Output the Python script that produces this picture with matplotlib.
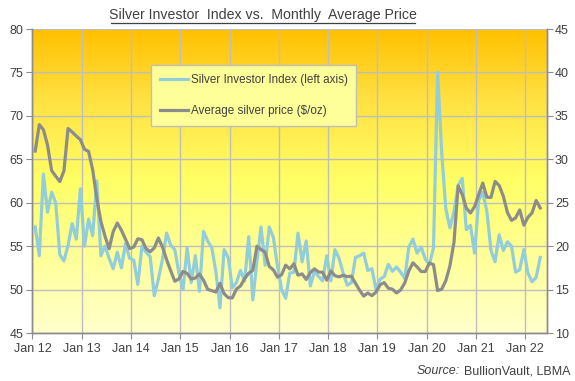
import numpy as np
import matplotlib
matplotlib.use('Agg')
import matplotlib.pyplot as plt
import matplotlib.colors as mcolors
from matplotlib.lines import Line2D

# monthly values, Jan 2012 .. Apr 2022
silver_index = [
    57.2, 53.9, 63.3, 58.9, 61.2, 60.0, 54.0, 53.3, 55.1, 57.6, 55.8, 61.6,
    55.0, 58.1, 56.2, 62.5, 53.9, 55.0, 53.6, 52.4, 54.3, 52.5, 55.3, 53.6,
    53.4, 50.6, 55.0, 54.3, 53.8, 49.3, 51.2, 53.5, 56.5, 55.1, 54.6, 51.9,
    50.0, 54.8, 50.8, 53.9, 49.8, 56.7, 55.6, 54.8, 52.1, 47.9, 54.6, 53.7,
    50.2, 50.8, 52.2, 51.0, 56.1, 48.8, 53.3, 57.2, 52.8, 57.2, 56.0, 52.7,
    50.0, 49.0, 51.9, 52.0, 56.5, 53.2, 55.6, 50.4, 52.1, 51.5, 51.0, 53.9,
    51.0, 54.6, 53.6, 51.9, 50.5, 50.8, 53.7, 53.9, 54.2, 52.2, 52.4, 50.0,
    51.2, 51.5, 52.9, 52.1, 52.6, 52.0, 51.3, 54.9, 55.8, 54.2, 54.9, 53.5,
    52.9, 54.8, 75.0, 65.8, 59.3, 57.1, 59.0, 62.0, 62.8, 56.9, 57.4, 54.2,
    60.3, 61.2, 59.0, 54.5, 53.2, 56.3, 54.5, 55.5, 55.0, 52.0, 52.3, 54.6,
    51.9, 50.9, 51.4, 53.7,
]
silver_price = [
    30.95, 33.99, 33.40, 31.64, 28.70, 28.05, 27.44, 28.67, 33.55, 33.14, 32.68, 32.26,
    31.15, 30.91, 28.78, 25.46, 22.85, 21.14, 19.71, 21.68, 22.66, 21.83, 20.79, 19.72,
    19.90, 20.85, 20.74, 19.71, 19.35, 19.80, 20.94, 19.90, 18.45, 17.17, 15.96, 16.23,
    17.09, 16.86, 16.22, 16.33, 16.79, 16.07, 15.03, 14.88, 14.72, 15.72, 14.52, 14.07,
    14.04, 15.06, 15.42, 16.26, 16.89, 17.22, 19.99, 19.61, 19.29, 17.66, 17.27, 16.43,
    16.71, 17.81, 17.38, 17.97, 16.66, 16.81, 16.17, 16.96, 17.39, 17.02, 16.99, 16.08,
    17.14, 16.59, 16.46, 16.65, 16.49, 16.54, 15.72, 14.93, 14.25, 14.60, 14.30, 14.70,
    15.56, 15.80, 15.16, 15.04, 14.61, 14.96, 15.77, 17.16, 18.08, 17.61, 17.08, 17.07,
    18.05, 17.87, 14.89, 15.05, 16.02, 17.73, 20.48, 26.93, 25.95, 24.38, 23.82, 24.54,
    25.92, 27.26, 25.63, 25.61, 27.45, 26.98, 25.76, 23.89, 22.97, 23.25, 24.17, 22.42,
    23.32, 23.83, 25.25, 24.40,
]
year_labels = ['Jan 12', 'Jan 13', 'Jan 14', 'Jan 15', 'Jan 16', 'Jan 17',
               'Jan 18', 'Jan 19', 'Jan 20', 'Jan 21', 'Jan 22']
left_ticks = [45, 50, 55, 60, 65, 70, 75, 80]
right_ticks = [10, 15, 20, 25, 30, 35, 40, 45]

C_BLUE = '#92CDDC'
C_GREY = '#8C8C8C'
C_TEXT = '#404040'
C_GRID = '#BEBEBE'
C_SPINE = '#8C8C8C'

plt.rcParams.update({
    'font.family': ['Liberation Sans', 'DejaVu Sans'],
    'font.size': 9,
    'xtick.labelsize': 9, 'ytick.labelsize': 9,
    'xtick.color': C_SPINE, 'ytick.color': C_SPINE,
    'xtick.labelcolor': C_TEXT, 'ytick.labelcolor': C_TEXT,
    'xtick.major.size': 4, 'ytick.major.size': 4,
})

fig = plt.figure(figsize=(5.75, 3.81), dpi=100)
ax = fig.add_axes([32 / 575, 48 / 381, (546.7 - 32) / 575, 304 / 381])
ax2 = ax.twinx()

# background gradient: gold at the top, pale yellow at the bottom
grad_cmap = mcolors.LinearSegmentedColormap.from_list(
    'bg', [(0.0, '#FFFFCC'), (0.5, '#FFFF66'), (0.78, '#FFE040'), (1.0, '#FFC000')])
grad = np.linspace(0, 1, 256).reshape(-1, 1)
ax.imshow(grad, aspect='auto', cmap=grad_cmap, origin='lower',
          extent=[0, 1, 0, 1], transform=ax.transAxes, zorder=0)

x = np.arange(len(silver_index)) + 0.68
ax.plot(x, silver_index, color=C_BLUE, linewidth=2.3, zorder=3,
        solid_joinstyle='round')
ax2.plot(x, silver_price, color=C_GREY, linewidth=2.3, zorder=3,
         solid_joinstyle='round')

ax.set_xlim(-0.1, 125.25)
ax.set_ylim(45, 80)
ax2.set_ylim(10, 45)
ax.set_xticks(np.arange(len(year_labels)) * 12)
ax.set_xticklabels(year_labels)
ax.set_yticks(left_ticks)
ax2.set_yticks(right_ticks)
ax.tick_params(axis='x', pad=3)
ax.tick_params(axis='y', pad=2)
ax2.tick_params(axis='y', pad=2)

ax.grid(True, color=C_GRID, linewidth=1.0, zorder=1)
ax.set_axisbelow(True)
ax2.patch.set_visible(False)
for a in (ax, ax2):
    a.spines['top'].set_visible(False)
    for s in ('left', 'right', 'bottom'):
        a.spines[s].set_color(C_SPINE)
        a.spines[s].set_linewidth(1.0)

handles = [Line2D([], [], color=C_BLUE, linewidth=2.3),
           Line2D([], [], color=C_GREY, linewidth=2.3)]
leg = ax2.legend(handles, ['Silver Investor Index (left axis)', 'Average silver price ($/oz)'],
                 loc='upper left', bbox_to_anchor=(151 / 575, 1 - 65 / 381),
                 bbox_transform=fig.transFigure, fancybox=False, framealpha=1,
                 facecolor='#FFFF99', edgecolor='#BEBEBE', labelspacing=1.65,
                 handlelength=2.4, handletextpad=0.25, borderpad=0.75,
                 borderaxespad=0, fontsize=8.4)
leg.get_frame().set_linewidth(1.0)
for t in leg.get_texts():
    t.set_color(C_TEXT)

# underlined title
fig.text(263 / 575, 1 - 15 / 381, 'Silver Investor  Index vs.  Monthly  Average Price',
         ha='center', va='center', fontsize=10.2, color=C_TEXT)
fig.add_artist(Line2D([111 / 575, 415 / 575], [1 - 22.5 / 381, 1 - 22.5 / 381],
                      color=C_TEXT, linewidth=0.9))

fig.text(570 / 575, 1 - 371 / 381, 'BullionVault, LBMA', ha='right', va='center',
         fontsize=9, color=C_TEXT)
fig.text(460 / 575, 1 - 371 / 381, 'Source:', ha='right', va='center',
         fontsize=9, color=C_TEXT, style='italic')

fig.savefig('out.png', dpi=100)
